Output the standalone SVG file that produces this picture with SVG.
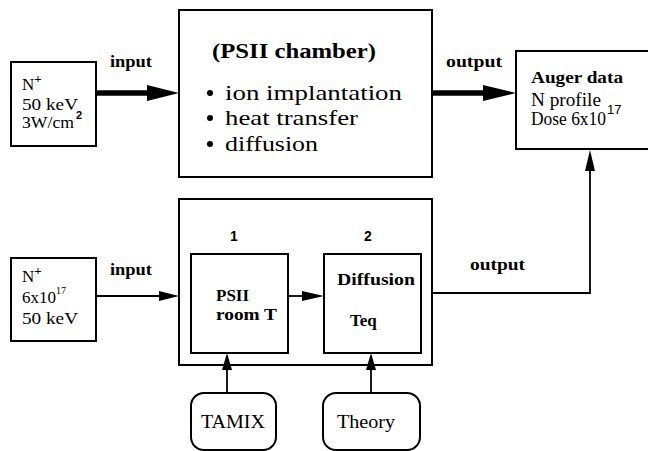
<svg xmlns="http://www.w3.org/2000/svg" width="648" height="451" viewBox="0 0 648 451">
<style>
.box{fill:none;stroke:#000;stroke-width:2}
.t{font-family:"Liberation Serif","Times New Roman",serif;fill:#000}
.b{font-weight:bold}
.s{font-family:"Liberation Sans",Arial,sans-serif;font-weight:bold;fill:#000}
.sn{font-family:"Liberation Sans",Arial,sans-serif;fill:#000}
.thick{stroke:#000;stroke-width:5.5;fill:none}
.thin{stroke:#000;stroke-width:1.8;fill:none}
</style>
<rect width="648" height="451" fill="#fff"/>
<g id="src-top">
<rect class="box" x="11" y="62" width="85" height="84"/>
<text class="t" x="22" y="90" font-size="17">N<tspan font-size="13" font-weight="bold" dy="-7">+</tspan></text>
<text class="t" x="22" y="110" font-size="17" textLength="56" lengthAdjust="spacingAndGlyphs">50 keV</text>
<text class="t" x="22" y="128" font-size="17"><tspan textLength="52" lengthAdjust="spacingAndGlyphs">3W/cm</tspan><tspan class="s" font-size="11" dx="2" dy="-9">2</tspan></text>
</g>
<g id="chamber">
<rect class="box" x="179" y="10" width="253" height="167"/>
<text class="t b" x="212" y="58" font-size="20" textLength="164" lengthAdjust="spacingAndGlyphs">(PSII chamber)</text>
<circle cx="210" cy="93" r="3"/>
<text class="t" x="225" y="100" font-size="22" textLength="177" lengthAdjust="spacingAndGlyphs">ion implantation</text>
<circle cx="210" cy="118" r="3"/>
<text class="t" x="225" y="125" font-size="22" textLength="133" lengthAdjust="spacingAndGlyphs">heat transfer</text>
<circle cx="210" cy="144" r="3"/>
<text class="t" x="225" y="151" font-size="22" textLength="93" lengthAdjust="spacingAndGlyphs">diffusion</text>
</g>
<g id="auger">
<rect class="box" x="516" y="51" width="134" height="98"/>
<text class="t b" x="531" y="83" font-size="17" textLength="92" lengthAdjust="spacingAndGlyphs">Auger data</text>
<text class="t" x="531" y="106" font-size="18" textLength="70" lengthAdjust="spacingAndGlyphs">N profile</text>
<text class="t" x="531" y="125" font-size="18"><tspan textLength="75" lengthAdjust="spacingAndGlyphs">Dose 6x10</tspan><tspan class="sn" font-size="13" dx="1" dy="-11">17</tspan></text>
</g>
<g id="src-bottom">
<rect class="box" x="11" y="258" width="85" height="83"/>
<text class="t" x="22" y="282" font-size="17">N<tspan font-size="13" font-weight="bold" dy="-7">+</tspan></text>
<text class="t" x="22" y="303" font-size="17">6x10<tspan font-size="10" dy="-9">17</tspan></text>
<text class="t" x="22" y="324" font-size="17" textLength="56" lengthAdjust="spacingAndGlyphs">50 keV</text>
</g>
<g id="model">
<rect class="box" x="179" y="199" width="253" height="166"/>
</g>
<g id="step1">
<text class="s" x="234" y="241" font-size="14" text-anchor="middle">1</text>
<rect class="box" x="191" y="254" width="97" height="99"/>
<text class="t b" x="216" y="301" font-size="17">PSII</text>
<text class="t b" x="216" y="320" font-size="17" textLength="61" lengthAdjust="spacingAndGlyphs">room T</text>
</g>
<g id="step2">
<text class="s" x="368" y="241" font-size="14" text-anchor="middle">2</text>
<rect class="box" x="324" y="254" width="97" height="99"/>
<text class="t b" x="337" y="285" font-size="17" textLength="78" lengthAdjust="spacingAndGlyphs">Diffusion</text>
<text class="t b" x="350" y="326" font-size="17">Teq</text>
</g>
<g id="tamix">
<rect class="box" x="191" y="393" width="85" height="57" rx="13"/>
<text class="t" x="233" y="428" font-size="18" text-anchor="middle" textLength="64" lengthAdjust="spacingAndGlyphs">TAMIX</text>
</g>
<g id="theory">
<rect class="box" x="323" y="393" width="97" height="57" rx="13"/>
<text class="t" x="337" y="428" font-size="18" textLength="58" lengthAdjust="spacingAndGlyphs">Theory</text>
</g>
<g id="connectors">
<text class="t b" x="110" y="67" font-size="16" textLength="42" lengthAdjust="spacingAndGlyphs">input</text>
<line class="thick" x1="96" y1="93" x2="150" y2="93"/>
<polygon points="147,85 179,93 147,101"/>
<text class="t b" x="446" y="67" font-size="16" textLength="56" lengthAdjust="spacingAndGlyphs">output</text>
<line class="thick" x1="432" y1="93" x2="486" y2="93"/>
<polygon points="483,85 516,93 483,101"/>
<text class="t b" x="110" y="275" font-size="16" textLength="42" lengthAdjust="spacingAndGlyphs">input</text>
<line class="thin" x1="96" y1="296" x2="162" y2="296"/>
<polygon points="159,291 179,296 159,301"/>
<line class="thin" x1="288" y1="296" x2="305" y2="296"/>
<polygon points="302,291 324,296 302,301"/>
<line class="thin" x1="227" y1="393" x2="227" y2="368"/>
<polygon points="222,370 227,353 232,370"/>
<line class="thin" x1="371" y1="393" x2="371" y2="368"/>
<polygon points="366,370 371,353 376,370"/>
<text class="t b" x="470" y="270" font-size="16" textLength="55" lengthAdjust="spacingAndGlyphs">output</text>
<polyline class="thin" points="432,293 590,293 590,168"/>
<polygon points="585,171 590,150 595,171"/>
</g>
</svg>
